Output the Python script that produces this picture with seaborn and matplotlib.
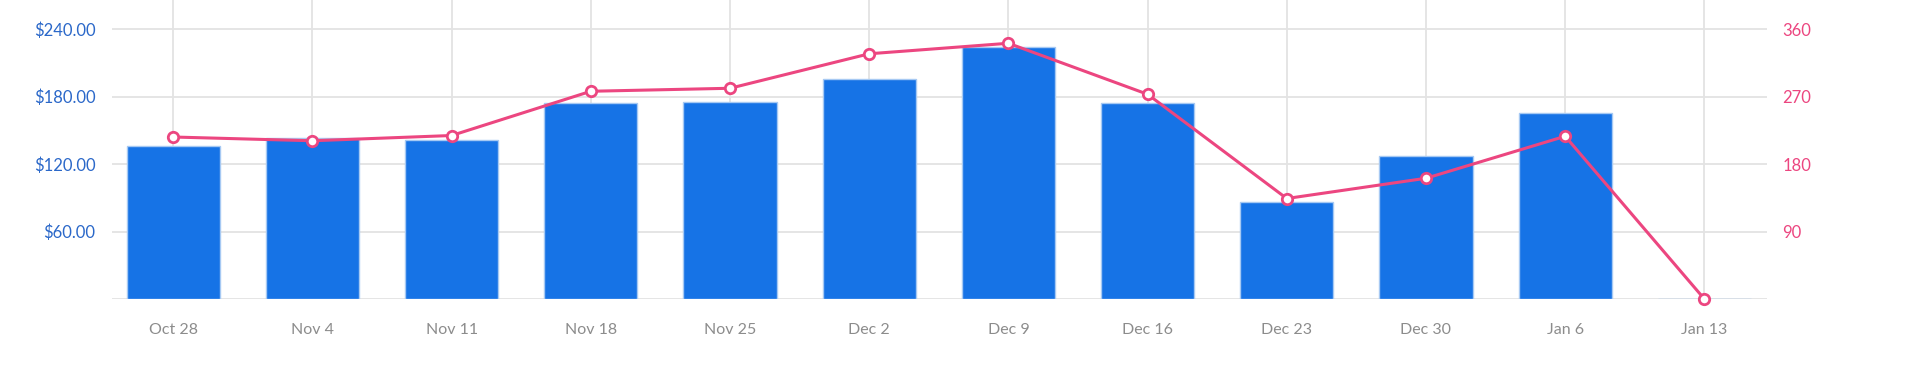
import numpy as np
import pandas as pd
import seaborn as sns
from matplotlib import pyplot as plt

# weekly data
weeks = ["Oct 28", "Nov 4", "Nov 11", "Nov 18", "Nov 25", "Dec 2",
         "Dec 9", "Dec 16", "Dec 23", "Dec 30", "Jan 6", "Jan 13"]
revenue = [136.3, 143.4, 141.3, 174.5, 174.8, 195.6,
           224.0, 174.0, 86.0, 127.4, 165.0, 0.0]
orders = [216, 211, 218, 277, 281, 327,
          341, 273, 134, 161, 217, 0]

left_ticks = [0, 60, 120, 180, 240]
left_labels = ["", "$60.00", "$120.00", "$180.00", "$240.00"]
right_ticks = [0, 90, 180, 270, 360]
right_labels = ["", "90", "180", "270", "360"]

bar_color = "#1673e6"
line_color = "#ec4680"
grid_color = "#e3e3e3"

sns.set_theme(style="white")
plt.rcParams["font.family"] = ["Lato", "DejaVu Sans"]

df = pd.DataFrame({"week": weeks, "revenue": revenue, "orders": orders})

fig = plt.figure(figsize=(19.05, 3.72), dpi=100)
ax = fig.add_axes([112 / 1905, 73 / 372, (1767 - 112) / 1905, 299 / 372])

sns.barplot(data=df, x="week", y="revenue", color=bar_color, width=0.67,
            edgecolor="#a6c9f3", linewidth=1.0, saturation=1, ax=ax)

ax.set_xlim(-0.44, 11.45)
ax.set_ylim(0, 265.8)
ax.set_yticks(left_ticks)
ax.set_yticklabels(left_labels)
ax.set_axisbelow(True)
ax.grid(True, color=grid_color, linewidth=1.3)
for s in ax.spines.values():
    s.set_visible(False)
ax.set_xlabel("")
ax.set_ylabel("")
ax.tick_params(axis="y", length=0, pad=12, labelsize=12, labelcolor="#2b68c9")
ax.tick_params(axis="x", length=3, width=1, color=grid_color, pad=14,
               labelsize=11.5, labelcolor="#8c8c8c")

ax2 = ax.twinx()
sns.lineplot(x=np.arange(len(weeks)), y=orders, color=line_color,
             linewidth=2.2, marker="o", markersize=7.5,
             markerfacecolor="white", markeredgecolor=line_color,
             markeredgewidth=2, clip_on=False, ax=ax2)
ax2.set_ylim(0, 265.8 * 1.5)
ax2.set_yticks(right_ticks)
ax2.set_yticklabels(right_labels)
ax2.grid(False)
for s in ax2.spines.values():
    s.set_visible(False)
ax2.tick_params(axis="y", length=0, pad=11, labelsize=12, labelcolor=line_color)

fig.savefig("out.png", dpi=100)
